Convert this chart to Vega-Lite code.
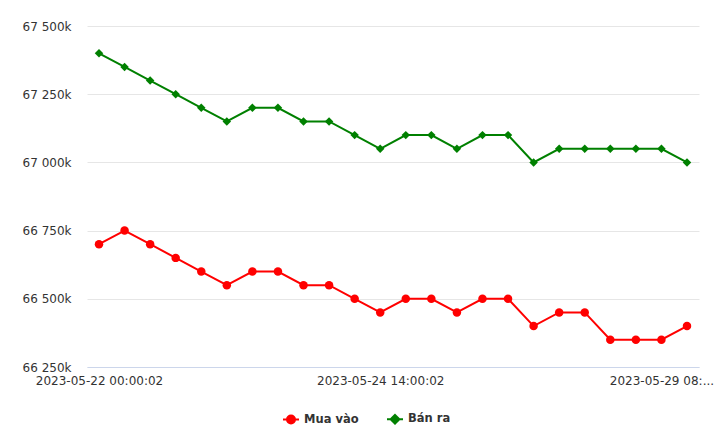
{
  "$schema": "https://vega.github.io/schema/vega-lite/v6.json",
  "autosize": "none",
  "width": 612,
  "height": 341,
  "padding": {"left": 87, "top": 26, "right": 21, "bottom": 79},
  "background": "white",
  "config": {
    "view": {"stroke": null},
    "font": "DejaVu Sans"
  },
  "data": {
    "values": [
      {"t": "2023-05-22 00:00:02", "series": "Mua vào", "value": 66700000},
      {"t": "2023-05-22 08:00:02", "series": "Mua vào", "value": 66750000},
      {"t": "2023-05-22 14:00:02", "series": "Mua vào", "value": 66700000},
      {"t": "2023-05-23 00:00:02", "series": "Mua vào", "value": 66650000},
      {"t": "2023-05-23 08:00:02", "series": "Mua vào", "value": 66600000},
      {"t": "2023-05-23 14:00:02", "series": "Mua vào", "value": 66550000},
      {"t": "2023-05-23 17:00:02", "series": "Mua vào", "value": 66600000},
      {"t": "2023-05-24 00:00:02", "series": "Mua vào", "value": 66600000},
      {"t": "2023-05-24 08:00:02", "series": "Mua vào", "value": 66550000},
      {"t": "2023-05-24 10:00:02", "series": "Mua vào", "value": 66550000},
      {"t": "2023-05-24 12:00:02", "series": "Mua vào", "value": 66500000},
      {"t": "2023-05-24 14:00:02", "series": "Mua vào", "value": 66450000},
      {"t": "2023-05-25 00:00:02", "series": "Mua vào", "value": 66500000},
      {"t": "2023-05-25 08:00:02", "series": "Mua vào", "value": 66500000},
      {"t": "2023-05-25 14:00:02", "series": "Mua vào", "value": 66450000},
      {"t": "2023-05-26 00:00:02", "series": "Mua vào", "value": 66500000},
      {"t": "2023-05-26 08:00:02", "series": "Mua vào", "value": 66500000},
      {"t": "2023-05-26 14:00:02", "series": "Mua vào", "value": 66400000},
      {"t": "2023-05-27 08:00:02", "series": "Mua vào", "value": 66450000},
      {"t": "2023-05-27 14:00:02", "series": "Mua vào", "value": 66450000},
      {"t": "2023-05-28 08:00:02", "series": "Mua vào", "value": 66350000},
      {"t": "2023-05-29 00:00:02", "series": "Mua vào", "value": 66350000},
      {"t": "2023-05-29 08:00:02", "series": "Mua vào", "value": 66350000},
      {"t": "2023-05-29 14:00:02", "series": "Mua vào", "value": 66400000},
      {"t": "2023-05-22 00:00:02", "series": "Bán ra", "value": 67400000},
      {"t": "2023-05-22 08:00:02", "series": "Bán ra", "value": 67350000},
      {"t": "2023-05-22 14:00:02", "series": "Bán ra", "value": 67300000},
      {"t": "2023-05-23 00:00:02", "series": "Bán ra", "value": 67250000},
      {"t": "2023-05-23 08:00:02", "series": "Bán ra", "value": 67200000},
      {"t": "2023-05-23 14:00:02", "series": "Bán ra", "value": 67150000},
      {"t": "2023-05-23 17:00:02", "series": "Bán ra", "value": 67200000},
      {"t": "2023-05-24 00:00:02", "series": "Bán ra", "value": 67200000},
      {"t": "2023-05-24 08:00:02", "series": "Bán ra", "value": 67150000},
      {"t": "2023-05-24 10:00:02", "series": "Bán ra", "value": 67150000},
      {"t": "2023-05-24 12:00:02", "series": "Bán ra", "value": 67100000},
      {"t": "2023-05-24 14:00:02", "series": "Bán ra", "value": 67050000},
      {"t": "2023-05-25 00:00:02", "series": "Bán ra", "value": 67100000},
      {"t": "2023-05-25 08:00:02", "series": "Bán ra", "value": 67100000},
      {"t": "2023-05-25 14:00:02", "series": "Bán ra", "value": 67050000},
      {"t": "2023-05-26 00:00:02", "series": "Bán ra", "value": 67100000},
      {"t": "2023-05-26 08:00:02", "series": "Bán ra", "value": 67100000},
      {"t": "2023-05-26 14:00:02", "series": "Bán ra", "value": 67000000},
      {"t": "2023-05-27 08:00:02", "series": "Bán ra", "value": 67050000},
      {"t": "2023-05-27 14:00:02", "series": "Bán ra", "value": 67050000},
      {"t": "2023-05-28 08:00:02", "series": "Bán ra", "value": 67050000},
      {"t": "2023-05-29 00:00:02", "series": "Bán ra", "value": 67050000},
      {"t": "2023-05-29 08:00:02", "series": "Bán ra", "value": 67050000},
      {"t": "2023-05-29 14:00:02", "series": "Bán ra", "value": 67000000}
    ]
  },
  "encoding": {
    "x": {
      "field": "t",
      "type": "ordinal",
      "scale": {"type": "point", "padding": 0.47},
      "axis": {
        "title": null,
        "values": ["2023-05-22 00:00:02", "2023-05-24 14:00:02", "2023-05-29 08:00:02"],
        "labelExpr": "datum.value == '2023-05-29 08:00:02' ? '2023-05-29 08:...' : datum.label",
        "labelAngle": 0,
        "labelFont": "DejaVu Sans",
        "labelFontSize": 12,
        "labelColor": "#333333",
        "labelPadding": 8,
        "labelOverlap": false,
        "labelBound": false,
        "ticks": false,
        "domain": true,
        "domainColor": "#ccd6eb",
        "domainWidth": 1,
        "grid": false
      }
    },
    "y": {
      "field": "value",
      "type": "quantitative",
      "scale": {"domain": [66250000, 67500000], "nice": false, "zero": false},
      "axis": {
        "title": null,
        "values": [66250000, 66500000, 66750000, 67000000, 67250000, 67500000],
        "labelExpr": "replace(format(datum.value / 1000, ','), ',', ' ') + 'k'",
        "labelFont": "DejaVu Sans",
        "labelFontSize": 12,
        "labelColor": "#333333",
        "labelPadding": 16,
        "ticks": false,
        "domain": false,
        "grid": true,
        "gridColor": "#e6e6e6",
        "gridWidth": 1
      }
    }
  },
  "layer": [
    {
      "mark": {"type": "line", "strokeWidth": 2},
      "encoding": {
        "color": {
          "field": "series",
          "type": "nominal",
          "scale": {"domain": ["Mua vào", "Bán ra"], "range": ["#ff0000", "#008000"]},
          "legend": {
            "title": null,
            "orient": "none",
            "legendX": 195,
            "legendY": 384,
            "direction": "horizontal",
            "columnPadding": 24,
            "symbolSize": 256,
            "symbolStrokeWidth": 2,
            "symbolType": "M-1,0L1,0M0.5,0A0.5,0.5 0 1,1 -0.5,0A0.5,0.5 0 1,1 0.5,0Z",
            "labelFont": "DejaVu Sans",
            "labelFontSize": 11.5,
            "labelFontWeight": "bold",
            "labelColor": "#333333",
            "labelOffset": 4,
            "encode": {
              "symbols": {
                "update": {
                  "shape": {"signal": "datum.value == 'Mua vào' ? 'M-1,0L1,0M0.5,0A0.5,0.5 0 1,1 -0.5,0A0.5,0.5 0 1,1 0.5,0Z' : 'M-1,0L1,0M0,-0.55L0.55,0L0,0.55L-0.55,0Z'"},
                  "fill": {"signal": "datum.value == 'Mua vào' ? '#ff0000' : '#008000'"},
                  "stroke": {"signal": "datum.value == 'Mua vào' ? '#ff0000' : '#008000'"}
                }
              }
            }
          }
        }
      }
    },
    {
      "mark": {"type": "point", "filled": true, "opacity": 1},
      "encoding": {
        "color": {
          "field": "series",
          "type": "nominal",
          "scale": {"domain": ["Mua vào", "Bán ra"], "range": ["#ff0000", "#008000"]},
          "legend": null
        },
        "shape": {
          "field": "series",
          "type": "nominal",
          "scale": {"domain": ["Mua vào", "Bán ra"], "range": ["circle", "diamond"]},
          "legend": null
        },
        "size": {
          "field": "series",
          "type": "nominal",
          "scale": {"domain": ["Mua vào", "Bán ra"], "range": [72, 72]},
          "legend": null
        }
      }
    }
  ],
  "resolve": {"scale": {"color": "independent", "shape": "independent", "size": "independent"}, "legend": {"color": "independent"}}
}
